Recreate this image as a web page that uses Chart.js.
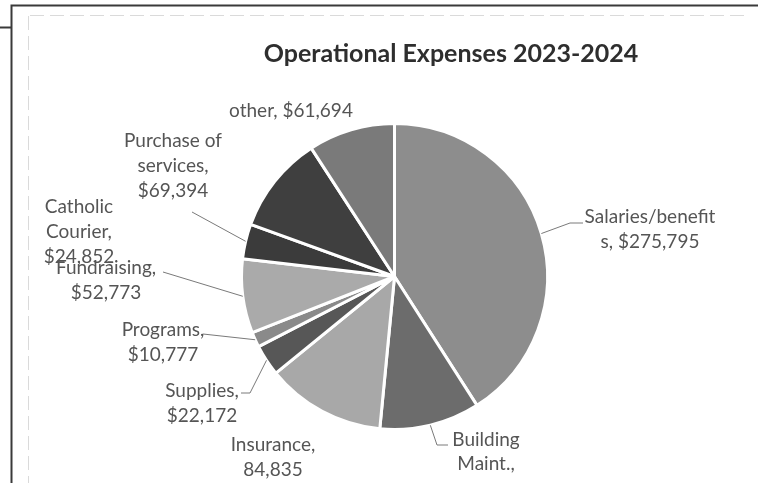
<!DOCTYPE html>
<html>
<head>
<meta charset="utf-8">
<script src="https://cdn.jsdelivr.net/npm/chart.js@4/dist/chart.umd.min.js"></script>
<style>
  html, body { margin: 0; padding: 0; background: #fff; }
  #wrap { width: 758px; height: 483px; }
</style>
</head>
<body>
<div id="wrap"><canvas id="expChart" width="758" height="483"></canvas></div>
<script>
// data (Building Maint. value is cut off, estimated from its slice)
const categories = ['Salaries/benefits', 'Building Maint.', 'Insurance', 'Supplies', 'Programs',
                    'Fundraising', 'Catholic Courier', 'Purchase of services', 'other'];
const amounts    = [275795, 71368, 84835, 22172, 10777, 52773, 24852, 69394, 61694];
const prefixes   = ['$', '$', '', '$', '$', '$', '$', '$', '$'];
const chartTitle = 'Operational Expenses 2023-2024';

const sliceColors = ['#8d8d8d', '#6c6c6c', '#a8a8a8', '#575757', '#8a8a8a',
                     '#aaaaaa', '#3b3b3b', '#3f3f3f', '#7a7a7a'];

// where each label goes and how it wraps (char positions to break at)
const labelLayout = [
  { x: 650, y: 217, breaks: [16], leader: [[570, 223], [583, 223]] },
  { x: 486, y: 440, breaks: [9, 17], gap: 24, lastGap: 32, leader: [[437, 445], [448, 445]] },
  { x: 273, y: 445, breaks: [11] },
  { x: 202, y: 391, breaks: [10], leader: [[250, 393], [241, 393]] },
  { x: 163, y: 330, breaks: [10], leader: [[203, 334]] },
  { x: 106, y: 268, breaks: [13], leader: [[163, 272]] },
  { x: 79,  y: 207, breaks: [9, 18], leader: [[192, 212]] },
  { x: 173, y: 141, breaks: [12, 22] },
  { x: 291, y: 111, breaks: [] }
];
const lineGap = 25;
const labelFont = '19px Lato';
const titleFont = 'bold 25px Lato';

function splitAt(text, breaks)
{
  const out = [];
  let start = 0;
  breaks.forEach((b) => { out.push(text.slice(start, b).trim()); start = b; });
  out.push(text.slice(start).trim());
  return out;
}

const framePlugin =
{
  id: 'scanFrame',
  beforeDraw: (chart) =>
  {
    const ctx = chart.ctx;
    ctx.save();
    ctx.fillStyle = '#fff';
    ctx.fillRect(0, 0, chart.width, chart.height);
    // light inner box of the chart area
    ctx.strokeStyle = '#dadada';
    ctx.lineWidth = 1;
    ctx.setLineDash([14, 6]);
    ctx.beginPath();
    ctx.moveTo(28.5, 16); ctx.lineTo(28.5, chart.height);
    ctx.moveTo(30, 15.5); ctx.lineTo(745, 15.5);
    ctx.stroke();
    ctx.setLineDash([]);
    // dark page border
    ctx.strokeStyle = '#3a3a3a';
    ctx.lineWidth = 2;
    ctx.beginPath();
    ctx.moveTo(11.5, chart.height); ctx.lineTo(11.5, 5.5); ctx.lineTo(chart.width, 5.5);
    ctx.moveTo(0, 27.5); ctx.lineTo(11.5, 27.5);
    ctx.stroke();
    ctx.restore();
  }
};

const labelPlugin =
{
  id: 'sliceLabels',
  afterDatasetsDraw: (chart) =>
  {
    const ctx = chart.ctx;
    const arcs = chart.getDatasetMeta(0).data;
    ctx.save();
    // title
    ctx.fillStyle = '#2e2e2e';
    ctx.font = titleFont;
    ctx.textAlign = 'center';
    ctx.textBaseline = 'middle';
    ctx.fillText(chartTitle, 451, 54);

    ctx.font = labelFont;
    arcs.forEach((arc, i) =>
    {
      const lay = labelLayout[i];
      const p = arc.getProps(['x', 'y', 'startAngle', 'endAngle', 'outerRadius'], true);
      const mid = (p.startAngle + p.endAngle) / 2;
      if (lay.leader)
      {
        ctx.strokeStyle = '#7a7a7a';
        ctx.lineWidth = 1;
        ctx.beginPath();
        ctx.moveTo(p.x + Math.cos(mid) * p.outerRadius, p.y + Math.sin(mid) * p.outerRadius);
        lay.leader.forEach((pt) => ctx.lineTo(pt[0], pt[1]));
        ctx.stroke();
      }
      const text = categories[i] + ', ' + prefixes[i] + amounts[i].toLocaleString('en-US');
      const lines = splitAt(text, lay.breaks);
      const gap = lay.gap || lineGap;
      let y = lay.y;
      ctx.fillStyle = '#555555';
      lines.forEach((line, k) =>
      {
        ctx.fillText(line, lay.x, y);
        y += (k === lines.length - 2 && lay.lastGap) ? lay.lastGap : gap;
      });
    });
    ctx.restore();
  }
};

const chartData =
{
  labels: categories,
  datasets:
  [{
    data: amounts,
    backgroundColor: sliceColors,
    borderColor: '#ffffff',
    borderWidth: 3
  }]
};

const config =
{
  type: 'pie',
  data: chartData,
  options:
  {
    responsive: false,
    animation: false,
    layout: { padding: { left: 240, right: 209, top: 122, bottom: 52 } },
    plugins:
    {
      legend: { display: false },
      title: { display: false },
      tooltip: { enabled: false }
    }
  },
  plugins: [framePlugin, labelPlugin]
};

const expChart = new Chart(document.getElementById('expChart'), config);
</script>
</body>
</html>
